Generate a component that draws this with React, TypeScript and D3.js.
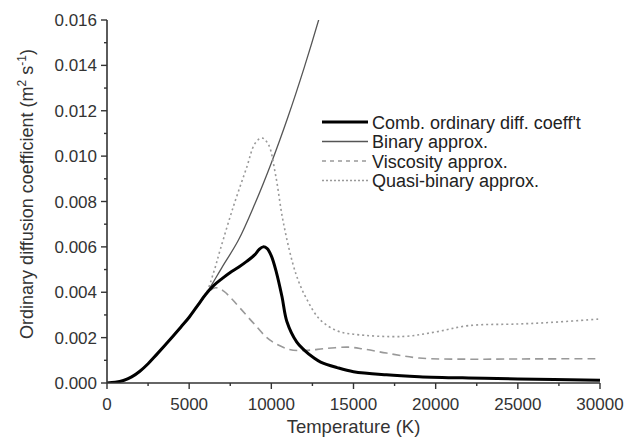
import React from "react";
import * as d3 from "d3";

// Temperature (K) and ordinary diffusion coefficient (m^2/s)
const combT = [0, 500, 1000, 1500, 2000, 2500, 3000, 3500, 4000, 4500, 5000, 5500, 6000, 6500, 7000, 7500, 8000, 8500, 9000, 9250, 9500, 9750, 10000, 10300, 10650, 10950, 11550, 12000, 12600, 13000, 14000, 15000, 17000, 19000, 22000, 25000, 30000];
const combD = [0, 0.00003, 0.00011, 0.00027, 0.00052, 0.00085, 0.00124, 0.00164, 0.00205, 0.00247, 0.0029, 0.0034, 0.0039, 0.0043, 0.0046, 0.00487, 0.0051, 0.00536, 0.00566, 0.00588, 0.006, 0.00592, 0.0056, 0.0049, 0.0038, 0.0027, 0.0018, 0.00145, 0.0011, 0.00092, 0.00068, 0.0005, 0.00036, 0.00028, 0.00022, 0.00018, 0.00012];

const binaryT = [0, 1000, 2000, 3000, 4000, 5000, 6000, 7000, 8000, 9000, 10000, 11000, 12000, 13000, 13500];
const binaryD = [0, 0.00011, 0.00052, 0.00124, 0.00205, 0.0029, 0.0039, 0.0051, 0.0063, 0.0079, 0.0097, 0.0117, 0.0139, 0.0163, 0.0176];

const viscT = [0, 1000, 2000, 3000, 4000, 5000, 6000, 6600, 7100, 7600, 8100, 8900, 9900, 11100, 12100, 13300, 14700, 15600, 17000, 19000, 22000, 25000, 30000];
const viscD = [0, 0.00011, 0.00052, 0.00124, 0.00205, 0.0029, 0.0039, 0.0042, 0.00405, 0.0037, 0.0033, 0.00265, 0.0019, 0.00148, 0.00144, 0.00152, 0.00158, 0.0015, 0.00132, 0.0011, 0.00105, 0.00106, 0.00107];

const quasiT = [0, 1000, 2000, 3000, 4000, 5000, 6000, 6500, 6900, 7700, 8500, 9000, 9430, 9830, 10250, 10750, 11500, 12150, 12950, 14000, 15000, 18000, 20000, 22000, 25000, 27000, 30000];
const quasiD = [0, 0.00011, 0.00052, 0.00124, 0.00205, 0.0029, 0.0039, 0.0049, 0.0059, 0.0078, 0.0095, 0.01055, 0.0108, 0.0105, 0.0092, 0.007, 0.0048, 0.0037, 0.0028, 0.0023, 0.00215, 0.00205, 0.00225, 0.00253, 0.0026, 0.00267, 0.00282];

const xTicks = [0, 5000, 10000, 15000, 20000, 25000, 30000];
const xMinor = [2500, 7500, 12500, 17500, 22500, 27500];
const yTicks = [0, 0.002, 0.004, 0.006, 0.008, 0.01, 0.012, 0.014, 0.016];
const yMinor = [0.001, 0.003, 0.005, 0.007, 0.009, 0.011, 0.013, 0.015];

const legendLabels = ["Comb. ordinary diff. coeff't", "Binary approx.", "Viscosity approx.", "Quasi-binary approx."];

const W = 627;
const H = 441;
const m = { left: 107, right: 27, top: 20, bottom: 58 };

export default function App() {
  const x = d3.scaleLinear().domain([0, 30000]).range([m.left, W - m.right]);
  const y = d3.scaleLinear().domain([0, 0.016]).range([H - m.bottom, m.top]);

  const mk = (ts: number[], ds: number[]) =>
    d3
      .line<number>()
      .x((_, i) => x(ts[i]))
      .y((d) => y(d))
      .curve(d3.curveCatmullRom.alpha(0.5))(ds) ?? "";

  const font = "Liberation Sans, Arial, sans-serif";
  const axisCol = "#333";
  const y0 = y(0);

  const series = [
    { d: mk(combT, combD), stroke: "#000", width: 3, dash: "" },
    { d: mk(binaryT, binaryD), stroke: "#555", width: 1.3, dash: "" },
    { d: mk(viscT, viscD), stroke: "#999", width: 1.6, dash: "8,5" },
    { d: mk(quasiT, quasiD), stroke: "#999", width: 1.6, dash: "2,3" },
  ];
  // draw order: thin ones first, combined on top
  const order = [1, 2, 3, 0];

  return (
    <svg width={W} height={H} style={{ position: "absolute", left: 0, top: 0, background: "#fff" }}>
      <defs>
        <clipPath id="plot">
          <rect x={m.left} y={m.top} width={W - m.left - m.right + 2} height={H - m.top - m.bottom} />
        </clipPath>
      </defs>
      <g clipPath="url(#plot)">
        {order.map((i) => (
          <path
            key={i}
            d={series[i].d}
            fill="none"
            stroke={series[i].stroke}
            strokeWidth={series[i].width}
            strokeDasharray={series[i].dash || undefined}
            strokeLinejoin="round"
          />
        ))}
      </g>

      {/* axes */}
      <line x1={m.left} x2={m.left} y1={m.top} y2={y0} stroke={axisCol} strokeWidth={1.6} />
      <line x1={m.left} x2={W - m.right} y1={y0} y2={y0} stroke={axisCol} strokeWidth={1.6} />
      {xTicks.map((t) => (
        <g key={"xt" + t}>
          <line x1={x(t)} x2={x(t)} y1={y0} y2={y0 + 6} stroke={axisCol} strokeWidth={1.4} />
          <text x={x(t)} y={y0 + 27} textAnchor="middle" fontFamily={font} fontSize={17} fill="#333">
            {t}
          </text>
        </g>
      ))}
      {xMinor.map((t) => (
        <line key={"xm" + t} x1={x(t)} x2={x(t)} y1={y0} y2={y0 + 3} stroke={axisCol} strokeWidth={1.4} />
      ))}
      {yTicks.map((t) => (
        <g key={"yt" + t}>
          <line x1={m.left - 6} x2={m.left} y1={y(t)} y2={y(t)} stroke={axisCol} strokeWidth={1.4} />
          <text x={m.left - 10} y={y(t) + 6} textAnchor="end" fontFamily={font} fontSize={17} fill="#333">
            {t.toFixed(3)}
          </text>
        </g>
      ))}
      {yMinor.map((t) => (
        <line key={"ym" + t} x1={m.left - 3} x2={m.left} y1={y(t)} y2={y(t)} stroke={axisCol} strokeWidth={1.4} />
      ))}

      {/* axis titles */}
      <text x={x(15000)} y={433} textAnchor="middle" fontFamily={font} fontSize={18.5} fill="#333">
        Temperature (K)
      </text>
      <text
        transform={`translate(33,194) rotate(-90)`}
        textAnchor="middle"
        fontFamily={font}
        fontSize={18}
        fill="#333"
      >
        Ordinary diffusion coefficient (m
        <tspan dy={-7} fontSize={12}>2</tspan>
        <tspan dy={7}> s</tspan>
        <tspan dy={-7} fontSize={12}>-1</tspan>
        <tspan dy={7}>)</tspan>
      </text>

      {/* legend */}
      {legendLabels.map((lab, i) => {
        const ly = 122 + i * 19.5;
        const s = series[i];
        return (
          <g key={lab}>
            <line
              x1={322}
              x2={368}
              y1={ly}
              y2={ly}
              stroke={s.stroke}
              strokeWidth={s.width}
              strokeDasharray={i === 2 ? "4,4" : i === 3 ? "2,2" : undefined}
            />
            <text x={372} y={ly + 6.5} fontFamily={font} fontSize={18} fill="#222">
              {lab}
            </text>
          </g>
        );
      })}
    </svg>
  );
}
